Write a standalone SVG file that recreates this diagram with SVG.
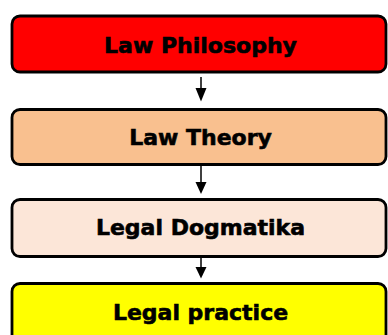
<svg xmlns="http://www.w3.org/2000/svg" width="388" height="335" viewBox="0 0 388 335">
  <style>
    .box { stroke: #000; stroke-width: 2.8; }
    .lbl { font-family: "DejaVu Sans", Verdana, sans-serif; font-weight: bold; font-size: 22px; text-anchor: middle; fill: #000; stroke: #000; stroke-width: 0.6; }
    .conn { stroke: #000; stroke-width: 1.5; fill: none; }
  </style>
  <g id="node-law-philosophy">
    <rect class="box" x="12" y="16" width="374" height="56" rx="8" fill="#FF0000"/>
    <text class="lbl" x="200.5" y="52.5">Law Philosophy</text>
  </g>
  <g id="node-law-theory">
    <rect class="box" x="12" y="109.5" width="374" height="55" rx="8" fill="#F9C08F"/>
    <text class="lbl" x="200.5" y="145">Law Theory</text>
  </g>
  <g id="node-legal-dogmatika">
    <rect class="box" x="12" y="199.5" width="374" height="57" rx="8" fill="#FCE6D8"/>
    <text class="lbl" x="200.5" y="235">Legal Dogmatika</text>
  </g>
  <g id="node-legal-practice">
    <rect class="box" x="12" y="283.5" width="374" height="62" rx="8" fill="#FFFF00"/>
    <text class="lbl" x="200.5" y="319.5">Legal practice</text>
  </g>
  <g id="connectors">
    <path class="conn" d="M201,77 L201,89"/>
    <path d="M195.5,88 L206.5,88 L201,101.5 Z" fill="#000"/>
    <path class="conn" d="M201,166 L201,183"/>
    <path d="M195.5,182 L206.5,182 L201,194 Z" fill="#000"/>
    <path class="conn" d="M201,258 L201,268"/>
    <path d="M195.5,267 L206.5,267 L201,278.5 Z" fill="#000"/>
  </g>
</svg>
